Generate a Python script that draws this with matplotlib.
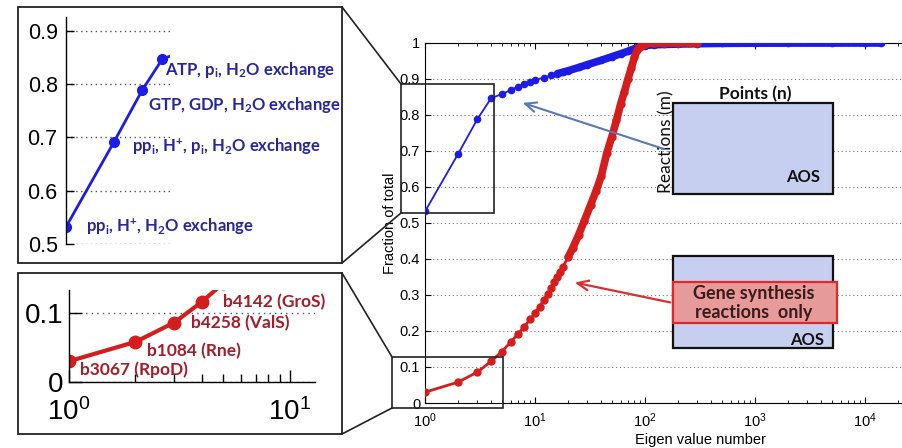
import numpy as np
import matplotlib
matplotlib.use('Agg')
import matplotlib.pyplot as plt
from matplotlib.patches import Rectangle
from matplotlib.ticker import LogLocator, NullFormatter, FixedLocator, FuncFormatter

plt.rcParams['font.family'] = ['Liberation Sans', 'DejaVu Sans']
plt.rcParams['mathtext.fontset'] = 'custom'
plt.rcParams['mathtext.rm'] = 'Lato:bold'
plt.rcParams['mathtext.it'] = 'Lato:bold'
plt.rcParams['mathtext.bf'] = 'Lato:bold'

# --- data ---
blue_n = [1, 2, 3, 4, 5, 6, 7, 8, 9, 10, 12, 14, 16, 18, 20, 25, 30, 40, 50, 60,
          70, 80, 90, 100, 120, 150, 200, 300, 500, 1000, 2000, 5000, 10000, 14000]
blue_frac = [0.532, 0.692, 0.789, 0.847, 0.858, 0.869, 0.879, 0.886, 0.892, 0.897,
             0.904, 0.910, 0.915, 0.919, 0.923, 0.932, 0.940, 0.952, 0.962, 0.970,
             0.977, 0.984, 0.990, 0.993, 0.995, 0.996, 0.997, 0.998, 0.999, 0.9995,
             0.9997, 0.9998, 0.9999, 1.0]

red_n = [1, 2, 3, 4, 5, 6, 7, 8, 9, 10, 11, 12, 13, 14, 15, 16, 17, 18, 20, 22, 25,
         28, 32, 36, 40, 45, 50, 55, 60, 65, 70, 75, 80, 85, 90, 95, 100, 120, 150,
         200, 250, 300]
red_frac = [0.030, 0.058, 0.086, 0.116, 0.143, 0.169, 0.192, 0.212, 0.232, 0.249,
            0.268, 0.285, 0.303, 0.320, 0.336, 0.350, 0.365, 0.379, 0.405, 0.430,
            0.468, 0.505, 0.550, 0.590, 0.630, 0.695, 0.740, 0.785, 0.830, 0.865,
            0.900, 0.930, 0.960, 0.980, 0.990, 0.995, 0.998, 1.0, 1.0, 1.0, 1.0, 1.0]

blue_labels = [r'pp$_\mathrm{i}$, H$^\mathrm{+}$, H$_\mathrm{2}$O exchange',
               r'pp$_\mathrm{i}$, H$^\mathrm{+}$, p$_\mathrm{i}$, H$_\mathrm{2}$O exchange',
               r'GTP, GDP, H$_\mathrm{2}$O exchange',
               r'ATP, p$_\mathrm{i}$, H$_\mathrm{2}$O exchange']
red_labels = ['b3067 (RpoD)', 'b1084 (Rne)', 'b4258 (ValS)', 'b4142 (GroS)']

BLUE = '#1c1ce6'
RED = '#d41e1e'
W, H = 902, 448


def fpos(left, top, right, bottom):
    # pixel box -> figure fraction
    return [left / W, 1 - bottom / H, (right - left) / W, (bottom - top) / H]


def log_lab(v, pos):
    if v > 1.5e4:
        return ''
    return r'$\mathdefault{10^{%d}}$' % round(np.log10(v))


fig = plt.figure(figsize=(9.02, 4.48), dpi=100)

# ---------------- main axes ----------------
ax = fig.add_axes(fpos(425, 43, 975, 403))
bn = np.array(blue_n)
bf = np.array(blue_frac)
rn = np.array(red_n)
rf = np.array(red_frac)
ax.plot(bn, bf, '-o', color=BLUE, lw=1.3, ms=4.5, zorder=3)
ax.plot(bn[bn >= 16], bf[bn >= 16], '-', color=BLUE, lw=5.5, solid_capstyle='round', zorder=3)
ax.plot(rn, rf, '-o', color=RED, lw=2.0, ms=5, zorder=4)
ax.plot(rn[rn >= 20], rf[rn >= 20], '-', color=RED, lw=5.5, solid_capstyle='round', zorder=4)
ax.set_xscale('log')
ax.set_xlim(1, 1e5)
ax.set_ylim(0, 1)
ax.set_yticks(np.arange(0, 1.01, 0.1))
ax.set_yticklabels(['0', '0.1', '0.2', '0.3', '0.4', '0.5', '0.6', '0.7', '0.8', '0.9', '1'])
ax.xaxis.set_major_locator(FixedLocator([1, 10, 100, 1000, 10000, 100000]))
ax.xaxis.set_major_formatter(FuncFormatter(log_lab))
ax.xaxis.set_minor_locator(LogLocator(base=10, subs=np.arange(2, 10), numticks=20))
ax.xaxis.set_minor_formatter(NullFormatter())
ax.tick_params(which='both', direction='in', top=True, right=True, labelsize=10.5)
ax.tick_params(which='major', length=4)
ax.tick_params(axis='x', which='major', pad=6)
ax.tick_params(which='minor', length=2.5)
ax.grid(axis='y', linestyle=(0, (1, 2.5)), color='#777777', lw=0.8)
ax.set_xlabel('Eigen value number', fontsize=10.5, labelpad=2)
ax.set_ylabel('Fraction of total', fontsize=10.5, labelpad=2)
for s in ax.spines.values():
    s.set_linewidth(0.8)

# ---------------- top inset ----------------
a1 = fig.add_axes(fpos(66, 17, 170, 244))
a1.plot(bn, bf, '-o', color=BLUE, lw=2, ms=7)
a1.set_xscale('log')
a1.set_xlim(1, 4.47)
a1.set_ylim(0.5, 0.926)
a1.set_yticks([0.5, 0.6, 0.7, 0.8, 0.9])
a1.set_yticklabels(['0.5', '0.6', '0.7', '0.8', '0.9'])
a1.xaxis.set_major_locator(FixedLocator([]))
a1.xaxis.set_minor_locator(FixedLocator([]))
a1.tick_params(axis='y', direction='in', length=6, width=1, labelsize=15.5, pad=6)
a1.grid(axis='y', linestyle=(0, (1, 2.5)), color='#555555', lw=1)
for k in ['top', 'right', 'bottom']:
    a1.spines[k].set_visible(False)
a1.spines['left'].set_linewidth(1)
a1.patch.set_alpha(0)
blue_off = [(20, 0), (18, -5), (6, -15), (3, -11)]
for i, lab in enumerate(blue_labels):
    a1.annotate(lab, (blue_n[i], blue_frac[i]), xytext=blue_off[i], textcoords='offset pixels',
                ha='left', va='center', color='#27279b', fontsize=12, fontweight='bold',
                family=['Lato', 'DejaVu Sans'], annotation_clip=False)

# ---------------- bottom inset ----------------
a2 = fig.add_axes(fpos(69, 290, 315, 382))
a2.plot(rn, rf, '-o', color=RED, lw=3, ms=9)
a2.set_xscale('log')
a2.set_xlim(1, 13)
a2.set_ylim(0, 0.133)
a2.set_yticks([0, 0.1])
a2.set_yticklabels(['0', '0.1'])
a2.xaxis.set_major_locator(FixedLocator([1, 10]))
a2.xaxis.set_minor_locator(FixedLocator([2, 3, 4, 5, 6, 7, 8, 9]))
a2.xaxis.set_minor_formatter(NullFormatter())
a2.set_xticklabels([r'$\mathdefault{10^{0}}$', r'$\mathdefault{10^{1}}$'])
a2.tick_params(which='both', direction='in', labelsize=20, width=1)
a2.tick_params(which='major', length=9, pad=4)
a2.tick_params(axis='x', which='major', pad=12)
a2.tick_params(which='minor', length=6)
a2.grid(axis='y', linestyle=(0, (1, 3)), color='#555555', lw=1)
for k in ['top', 'right']:
    a2.spines[k].set_visible(False)
a2.spines['left'].set_linewidth(1)
a2.spines['bottom'].set_linewidth(1)
a2.patch.set_alpha(0)
red_off = [(11, -8), (12, -9), (17, -1), (21, 0)]
for i, lab in enumerate(red_labels):
    a2.annotate(lab, (red_n[i], red_frac[i]), xytext=red_off[i], textcoords='offset pixels',
                ha='left', va='center', color='#a31d2a', fontsize=12.5, fontweight='bold',
                family=['Lato', 'DejaVu Sans'], annotation_clip=False)

# ---------------- overlay in pixel coordinates ----------------
ov = fig.add_axes([0, 0, 1, 1], zorder=10)
ov.set_xlim(0, W)
ov.set_ylim(H, 0)
ov.axis('off')
ov.patch.set_alpha(0)

edge = '#222222'
# inset frames
ov.add_patch(Rectangle((18, 7), 324, 256, fill=False, ec=edge, lw=1.3))
ov.add_patch(Rectangle((18, 273), 324, 161, fill=False, ec=edge, lw=1.3))
# zoom rectangles on main plot
ov.add_patch(Rectangle((401, 84), 93, 129, fill=False, ec=edge, lw=1.2))
ov.add_patch(Rectangle((392, 357), 111, 51, fill=False, ec=edge, lw=1.2))
# connector lines
ov.plot([342, 401], [7, 84], color=edge, lw=1.2)
ov.plot([342, 401], [263, 213], color=edge, lw=1.2)
ov.plot([342, 392], [273, 357], color=edge, lw=1.2)
ov.plot([342, 392], [434, 408], color=edge, lw=1.2)

# AOS boxes
box_font = ['Lato', 'DejaVu Sans']
ov.add_patch(Rectangle((673, 103), 160, 91, fc='#c6cff0', ec='#111111', lw=1.6))
ov.text(755, 94, 'Points (n)', ha='center', va='center', fontsize=12.5, fontweight='bold',
        family=box_font, color='#111111')
ov.text(666, 142, 'Reactions (m)', ha='center', va='center', rotation=90, fontsize=12.5,
        family=box_font, color='#111111')
ov.text(803, 177, 'AOS', ha='center', va='center', fontsize=12, fontweight='bold',
        family=box_font, color='#111111')

ov.add_patch(Rectangle((673, 256), 160, 92, fc='#c6cff0', ec='#111111', lw=1.6))
ov.add_patch(Rectangle((673, 282), 164, 41, fc='#e69a9a', ec='#e02828', lw=1.6))
ov.text(754, 303, 'Gene synthesis\nreactions  only', ha='center', va='center', fontsize=13,
        fontweight='bold', family=box_font, color='#3a1a1a', linespacing=1.1)
ov.text(807, 340, 'AOS', ha='center', va='center', fontsize=12, fontweight='bold',
        family=box_font, color='#111111')

# arrows
ov.annotate('', xy=(520, 102), xytext=(667, 150),
            arrowprops=dict(arrowstyle='->,head_length=0.8,head_width=0.35', color='#5b78b8', lw=1.5))
ov.annotate('', xy=(572, 282), xytext=(673, 303),
            arrowprops=dict(arrowstyle='->,head_length=0.8,head_width=0.35', color='#d83030', lw=1.6))

fig.savefig('out.png', dpi=100)
